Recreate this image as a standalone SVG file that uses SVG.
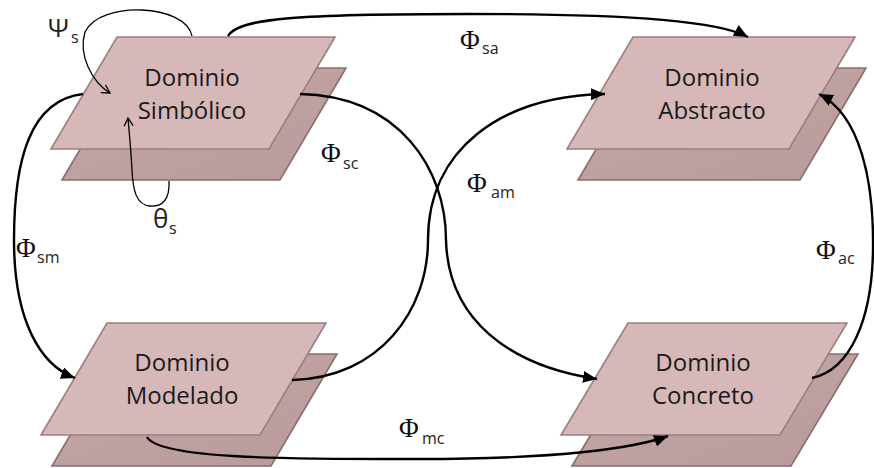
<svg xmlns="http://www.w3.org/2000/svg" width="874" height="468" viewBox="0 0 874 468">
<defs>
<linearGradient id="bk" x1="0" y1="0" x2="1" y2="1">
<stop offset="0" stop-color="#c6a7a8"/>
<stop offset="1" stop-color="#b99a9b"/>
</linearGradient>
<marker id="ah" markerUnits="userSpaceOnUse" markerWidth="16" markerHeight="14" refX="14" refY="7" orient="auto">
<path d="M0,1 L14,7 L0,13 Z" fill="#000"/>
</marker>
<marker id="oh" markerUnits="userSpaceOnUse" markerWidth="12" markerHeight="12" refX="9" refY="6" orient="auto">
<path d="M1,1.5 L9,6 L1,10.5" fill="none" stroke="#000" stroke-width="1.3"/>
</marker>
</defs>
<style>
.back{fill:url(#bk);stroke:#8a6c6d;stroke-width:1.6}
.front{fill:#d7b8b9;stroke:#9b7e7f;stroke-width:1.6}
.lbl{font-family:"Open Sans","Noto Sans",sans-serif;font-size:24px;fill:#1a1a1a;text-anchor:middle}
.phi{font-family:"Liberation Serif","DejaVu Serif",serif;font-size:27px;fill:#111}
.sub{font-family:"Open Sans","Noto Sans",sans-serif;font-size:16px;fill:#222}
.gr{font-family:"Open Sans","Noto Sans",sans-serif;font-size:26px;fill:#222}
.c{fill:none;stroke:#000;stroke-width:2.4}
.t{fill:none;stroke:#000;stroke-width:1.3}
</style>

<g id="simbolico">
<polygon class="back" points="128,68 346,68 280,180 62,180"/>
<polygon class="front" points="117,37 335,37 269,149 51,149"/>
<text class="lbl" x="192" y="86">Dominio</text>
<text class="lbl" x="192" y="119">Simbólico</text>
</g>
<g id="abstracto">
<polygon class="back" points="644,68 866,68 800,180 578,180"/>
<polygon class="front" points="633,37 855,37 789,149 567,149"/>
<text class="lbl" x="712" y="86">Dominio</text>
<text class="lbl" x="712" y="119">Abstracto</text>
</g>
<g id="modelado">
<polygon class="back" points="118,354 337,354 271,466 52,466"/>
<polygon class="front" points="107,323 326,323 260,435 41,435"/>
<text class="lbl" x="182" y="371">Dominio</text>
<text class="lbl" x="182" y="404">Modelado</text>
</g>
<g id="concreto">
<polygon class="back" points="639,354 858,354 791,466 572,466"/>
<polygon class="front" points="628,323 847,323 780,435 561,435"/>
<text class="lbl" x="703" y="371">Dominio</text>
<text class="lbl" x="703" y="404">Concreto</text>
</g>

<g id="connectors">
<path class="c" d="M228,36 C 238,18 300,14 470,14 C 640,14 720,22 748,37" marker-end="url(#ah)"/>
<path class="c" d="M83,94 C 30,100 14,160 14,240 C 14,320 40,365 75,378" marker-end="url(#ah)"/>
<path class="c" d="M300,94 C 400,96 446,170 446,240 C 448,320 510,366 597,379" marker-end="url(#ah)"/>
<path class="c" d="M292,380 C 380,378 428,310 428,240 C 428,150 500,96 605,94" marker-end="url(#ah)"/>
<path class="c" d="M147,437 C 160,460 300,459 420,459 C 560,459 635,448 668,436" marker-end="url(#ah)"/>
<path class="c" d="M812,378 C 850,370 872,320 873,250 C 874,180 860,115 819,94" marker-end="url(#ah)"/>
<path class="t" d="M192,36 C 186,4 100,0 85,32 C 78,55 92,82 110,93" marker-end="url(#oh)"/>
<path class="t" d="M169,181 C 170,200 162,207 150,206 C 136,205 133,190 132,170 C 131,150 129,130 128,118" marker-end="url(#oh)"/>
</g>

<g id="labels">
<text class="phi" x="460" y="49">Φ</text><text class="sub" x="482" y="54">sa</text>
<text class="phi" x="321" y="162">Φ</text><text class="sub" x="343" y="169">sc</text>
<text class="phi" x="467" y="192">Φ</text><text class="sub" x="491" y="198">am</text>
<text class="phi" x="16" y="257">Φ</text><text class="sub" x="37" y="263">sm</text>
<text class="phi" x="816" y="259">Φ</text><text class="sub" x="838" y="264">ac</text>
<text class="phi" x="399" y="437">Φ</text><text class="sub" x="422" y="444">mc</text>
<text class="gr" x="48" y="37">Ψ</text><text class="sub" x="71" y="43">s</text>
<text class="gr" x="153" y="228">θ</text><text class="sub" x="169" y="234">s</text>
</g>
</svg>
